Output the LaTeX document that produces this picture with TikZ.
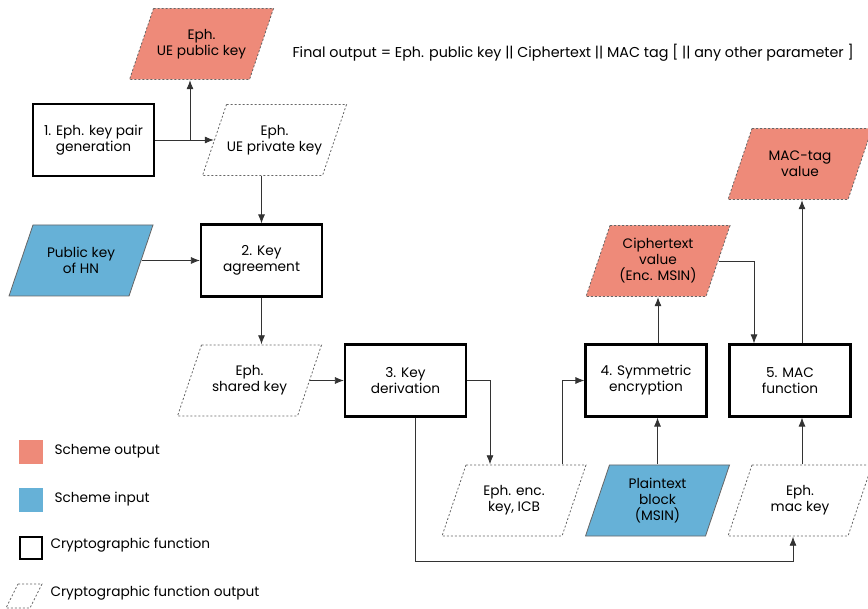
\documentclass[tikz,border=0pt]{standalone}
\usepackage{fontspec}
\setmainfont{Poppins}
\usetikzlibrary{arrows.meta}
\definecolor{outcol}{HTML}{EE8A79}
\definecolor{incol}{HTML}{66B1D7}

\begin{document}
\begin{tikzpicture}[x=1pt, y=-1pt, font=\fontsize{13.7}{16}\selectfont,
    func/.style={rectangle, draw, line width=2.2pt, minimum width=121, minimum height=72, align=center},
    para edge/.style={},
    para/.style={rectangle, minimum width=145, minimum height=72, align=center, inner sep=1pt,
        path picture={\path[para edge]
            ([xshift=24.5pt, yshift=-0.5pt]path picture bounding box.north west)
            -- ([xshift=-0.5pt, yshift=-0.5pt]path picture bounding box.north east)
            -- ([xshift=-24.5pt, yshift=0.5pt]path picture bounding box.south east)
            -- ([xshift=0.5pt, yshift=0.5pt]path picture bounding box.south west) -- cycle;}},
    dots/.style={draw=black!60, dash pattern=on 2pt off 2pt, line width=0.8pt},
    keyout/.style={para, para edge/.style={dots}},
    schout/.style={para, para edge/.style={dots, fill=outcol}},
    schin/.style={para, para edge/.style={draw=black!60, fill=incol, line width=0.8pt}},
    arr/.style={draw=black!80, line width=0.8pt, -{Latex[length=9pt,width=7pt]}}]
    \useasboundingbox (0, 0) rectangle (868, 609);

    \node at (201.5, 44) [schout] (pub) {Eph.\\UE public key};
    \node at (289, 53) [anchor=west, font=\fontsize{14.3}{16}\selectfont] (final) {Final output = Eph. public key || Ciphertext || MAC tag [ || any other parameter ]};
    \node at (93.5, 140) [func] (gen) {1. Eph. key pair\\generation};
    \node at (274.5, 140) [keyout] (priv) {Eph.\\UE private key};
    \node at (81, 260.5) [schin] (hn) {Public key\\of HN};
    \node at (261.5, 260.5) [func] (agree) {2. Key\\agreement};
    \node at (249.5, 380.5) [keyout] (shared) {Eph.\\shared key};
    \node at (405.5, 380.5) [func] (deriv) {3. Key\\derivation};
    \node at (514, 500.5) [keyout] (enckey) {Eph. enc.\\key, ICB};
    \node at (646, 380.5) [func] (symenc) {4. Symmetric\\encryption};
    \node at (657.5, 500.5) [schin] (plain) {Plaintext\\block\\(MSIN)};
    \node at (658, 261) [schout] (cipher) {Ciphertext\\value\\(Enc. MSIN)};
    \node at (790, 380.5) [func] (mac) {5. MAC\\function};
    \node at (800, 500.5) [keyout] (mackey) {Eph.\\mac key};
    \node at (800, 164) [schout] (tag) {MAC-tag\\value};

    % legend
    \node at (30.5, 452) [fill=outcol, minimum size=24, inner sep=0] (lgout) {};
    \node at (51, 451) [anchor=west] (lgouttxt) {Scheme output};
    \node at (30.5, 500) [fill=incol, minimum size=24, inner sep=0] (lgin) {};
    \node at (51, 499) [anchor=west] (lgintxt) {Scheme input};
    \node at (30.5, 548) [draw, line width=2pt, minimum size=22, inner sep=0] (lgfunc) {};
    \node at (47, 545) [anchor=west] (lgfunctxt) {Cryptographic function};
    \draw[dots] (18, 584) -- (42, 584) -- (30, 608) -- (6, 608) -- cycle;
    \node at (47, 593) [anchor=west] (lgkeytxt) {Cryptographic function output};

    \coordinate (split) at (190, 140);
    \coordinate (bend) at (793, 561);

    \draw[arr] (gen.east) -- ([xshift=12pt]priv.west);
    \draw[arr] (split) -- (split |- pub.south);
    \draw[arr] (agree.north |- priv.south) -- (agree.north);
    \draw[arr] ([xshift=-12pt]hn.east) -- (agree.west);
    \draw[arr] (agree.south) -- (shared.north -| agree.south);
    \draw[arr] ([xshift=-12pt]shared.east) -- (deriv.west);
    \draw[arr] (deriv.east) -| ([xshift=-24pt]enckey.north);
    \draw[arr] ([xshift=48pt]enckey.north) |- (symenc.west);
    \draw[arr] (symenc.north -| cipher.south) -- (cipher.south);
    \draw[arr] (plain.north) -- (plain.north |- symenc.south);
    \draw[arr] ([xshift=-12pt]cipher.east) -| ([xshift=-36pt]mac.north);
    \draw[arr] ([xshift=12pt]mac.north) -- ([xshift=12pt]mac.north |- tag.south);
    \draw[arr] ([xshift=2pt]mackey.north) -- ([xshift=2pt]mackey.north |- mac.south);
    \draw[arr] ([xshift=10pt]deriv.south) |- (bend) -- (bend |- mackey.south);
\end{tikzpicture}
\end{document}
